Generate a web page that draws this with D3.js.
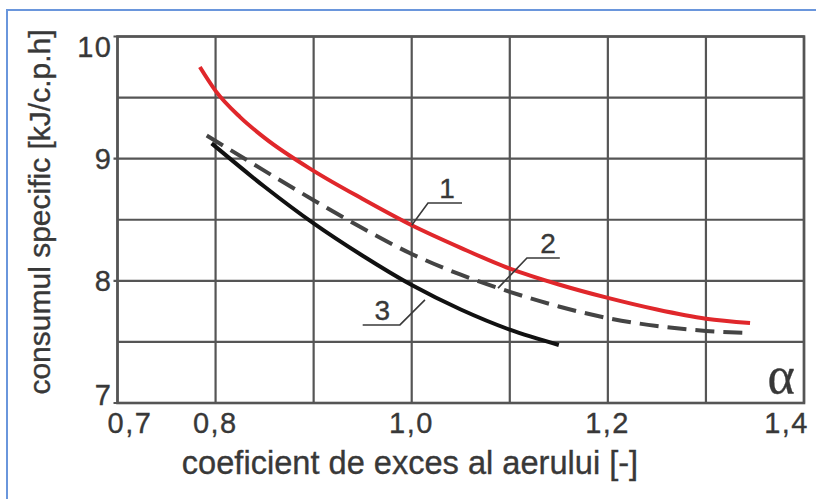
<!DOCTYPE html>
<html>
<head>
<meta charset="utf-8">
<script src="https://cdn.jsdelivr.net/npm/d3@7"></script>
<style>
  html, body { margin: 0; padding: 0; background: #fff; }
  svg { display: block; }
  text { font-family: "Liberation Sans", Arial, sans-serif; fill: #383838; stroke: #383838; stroke-width: 0.35; }
</style>
</head>
<body>
<script>
// Excess-air coefficient (alpha) on x, specific consumption on y
const xTicks = [0.7, 0.8, 1.0, 1.2, 1.4];
const xTickLabels = ["0,7", "0,8", "1,0", "1,2", "1,4"];
const xGrid = [0.7, 0.8, 0.9, 1.0, 1.1, 1.2, 1.3, 1.4];
const yTicks = [7, 8, 9, 10];
const yGrid = [7, 7.5, 8, 8.5, 9, 9.5, 10];

// Curve 1 (red)
const alpha1 = [0.784, 0.8, 0.825, 0.85, 0.9, 0.95, 1.0, 1.05, 1.1, 1.15, 1.2, 1.25, 1.3, 1.345];
const cons1  = [9.75, 9.555, 9.34, 9.17, 8.90, 8.67, 8.455, 8.27, 8.10, 7.97, 7.86, 7.765, 7.69, 7.655];
// Curve 2 (dashed)
const alpha2 = [0.791, 0.85, 0.9, 0.95, 1.0, 1.05, 1.1, 1.15, 1.2, 1.25, 1.3, 1.34];
const cons2  = [9.19, 8.90, 8.66, 8.43, 8.22, 8.05, 7.91, 7.79, 7.695, 7.63, 7.59, 7.575];
// Curve 3 (black)
const alpha3 = [0.796, 0.85, 0.9, 0.95, 1.0, 1.05, 1.1, 1.15];
const cons3  = [9.125, 8.77, 8.47, 8.205, 7.965, 7.765, 7.60, 7.475];

// Curve number labels with their leader lines (data coordinates)
const curveLabels = ["1", "2", "3"];
const labelPos = [[1.036, 8.68], [1.139, 8.23], [0.970, 7.68]];
const leaders = [
  [[1.0, 8.455], [1.0166, 8.637], [1.0513, 8.637]],
  [[1.088, 7.94], [1.1175, 8.187], [1.151, 8.187]],
  [[0.950, 7.639], [0.988, 7.639], [1.0135, 7.844]]
];

const W = 816, H = 499;
const m = { left: 117.5, right: 804, top: 36.5, bottom: 403 };

const svg = d3.select("body").append("svg").attr("width", W).attr("height", H);

// page frame (top and left edges)
svg.append("path")
  .attr("d", `M7,${H} V10 H${W}`)
  .attr("fill", "none").attr("stroke", "#6a96dc").attr("stroke-width", 2);

const x = d3.scaleLinear().domain([0.7, 1.4]).range([m.left, m.right]);
const y = d3.scaleLinear().domain([7, 10]).range([m.bottom, m.top]);

const gridColor = "#555";

// grid
svg.append("g").selectAll("line").data(xGrid).join("line")
  .attr("x1", d => x(d)).attr("x2", d => x(d))
  .attr("y1", m.top).attr("y2", m.bottom)
  .attr("stroke", gridColor).attr("stroke-width", 2.2);
svg.append("g").selectAll("line").data(yGrid).join("line")
  .attr("x1", d => yTicks.includes(d) ? m.left - 4 : m.left).attr("x2", m.right)
  .attr("y1", d => y(d)).attr("y2", d => y(d))
  .attr("stroke", gridColor).attr("stroke-width", 2.2);
// frame
svg.append("rect")
  .attr("x", m.left).attr("y", m.top)
  .attr("width", m.right - m.left).attr("height", m.bottom - m.top)
  .attr("fill", "none").attr("stroke", gridColor).attr("stroke-width", 2.6);

// tick labels (end labels kept inside the axis span)
const ls = 1.5;
const yOff = d => d === 10 ? 20 : (d === 7 ? 2 : 10);
svg.append("g").selectAll("text").data(yTicks).join("text")
  .attr("x", 112.5).attr("y", d => y(d) + yOff(d))
  .attr("text-anchor", "end").attr("font-size", 29)
  .attr("letter-spacing", ls)
  .text(d => d);

const xAnchor = (d, i) => i === 0 ? "start" : (i === xTicks.length - 1 ? "end" : "middle");
const xShift = (d, i) => i === 0 ? -10 : (i === xTicks.length - 1 ? 5 : ls / 2 - 1);
svg.append("g").selectAll("text").data(xTicks).join("text")
  .attr("x", (d, i) => x(d) + xShift(d, i))
  .attr("y", 433)
  .attr("text-anchor", xAnchor).attr("font-size", 29)
  .attr("letter-spacing", ls)
  .text((d, i) => xTickLabels[i]);

// axis titles
svg.append("text")
  .attr("x", 410).attr("y", 474)
  .attr("text-anchor", "middle").attr("font-size", 32.6)
  .text("coeficient de exces al aerului [-]");
svg.append("text")
  .attr("transform", "translate(50,212) rotate(-90)")
  .attr("text-anchor", "middle").attr("font-size", 30)
  .text("consumul specific [kJ/c.p.h]");

// alpha symbol
svg.append("text")
  .attr("x", 781).attr("y", 393)
  .attr("text-anchor", "middle")
  .style("font-family", "'Liberation Serif', 'Times New Roman', serif")
  .attr("font-size", 52)
  .text("α");

// curves
const line = d3.line().x(d => x(d[0])).y(d => y(d[1])).curve(d3.curveMonotoneX);
const zip = (a, b) => a.map((v, i) => [v, b[i]]);

svg.append("path").datum(zip(alpha2, cons2))
  .attr("d", line).attr("fill", "none")
  .attr("stroke", "#444").attr("stroke-width", 4)
  .attr("stroke-dasharray", "19,9");
svg.append("path").datum(zip(alpha3, cons3))
  .attr("d", line).attr("fill", "none")
  .attr("stroke", "#111").attr("stroke-width", 4);
svg.append("path").datum(zip(alpha1, cons1))
  .attr("d", line).attr("fill", "none")
  .attr("stroke", "#e0272b").attr("stroke-width", 4);

// leaders and curve numbers
const leaderLine = d3.line().x(d => x(d[0])).y(d => y(d[1]));
svg.append("g").selectAll("path").data(leaders).join("path")
  .attr("d", leaderLine).attr("fill", "none")
  .attr("stroke", "#3a3a3a").attr("stroke-width", 1.6);
svg.append("g").selectAll("text").data(curveLabels).join("text")
  .attr("x", (d, i) => x(labelPos[i][0])).attr("y", (d, i) => y(labelPos[i][1]))
  .attr("text-anchor", "middle").attr("font-size", 28)
  .text(d => d);
</script>
</body>
</html>
